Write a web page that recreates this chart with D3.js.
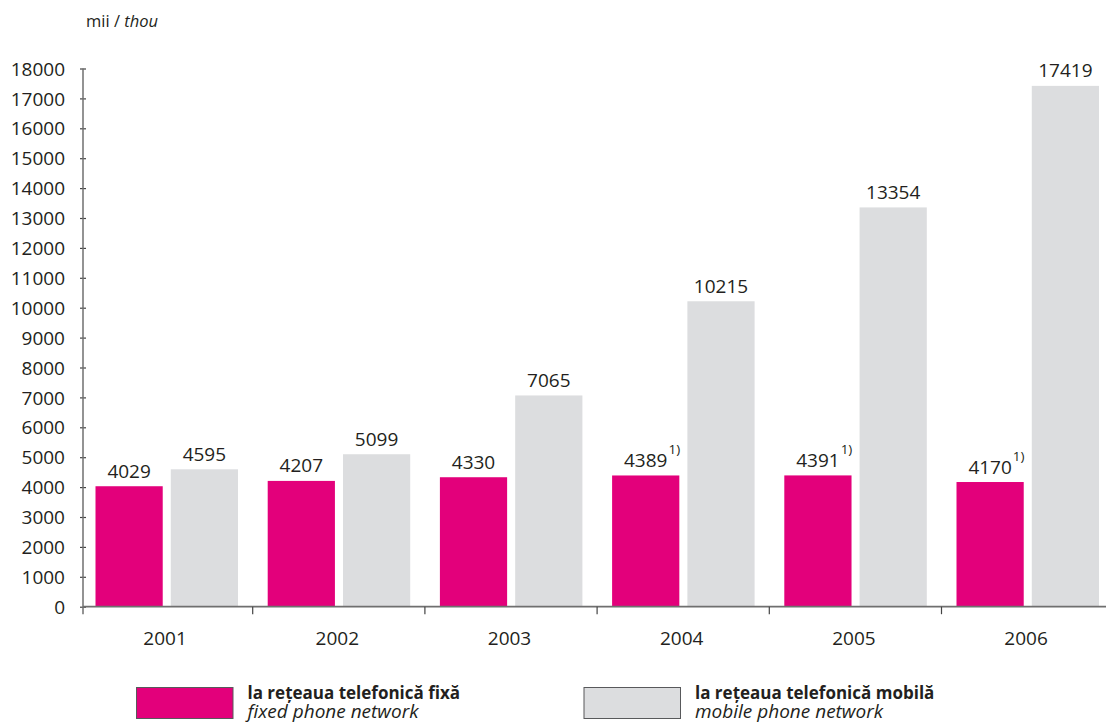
<!DOCTYPE html>
<html>
<head>
<meta charset="utf-8">
<script src="https://cdn.jsdelivr.net/npm/d3@7"></script>
<style>
  html, body { margin: 0; padding: 0; background: #fff; }
  svg { display: block; font-family: "Open Sans", "Noto Sans", sans-serif; }
</style>
</head>
<body>
<svg id="chart" width="1106" height="723"></svg>
<script>
// ---- data ----
const categories = ["2001", "2002", "2003", "2004", "2005", "2006"];
const fixedValues = [4029, 4207, 4330, 4389, 4391, 4170];
const mobileValues = [4595, 5099, 7065, 10215, 13354, 17419];
const fixedNotes = ["", "", "", "1)", "1)", "1)"];
const mobileNotes = ["", "", "", "", "", ""];
const yTicks = [0, 1000, 2000, 3000, 4000, 5000, 6000, 7000, 8000, 9000, 10000,
                11000, 12000, 13000, 14000, 15000, 16000, 17000, 18000];
const seriesKeys = ["fixed", "mobile"];
const seriesLabelsRo = ["la rețeaua telefonică fixă", "la rețeaua telefonică mobilă"];
const seriesLabelsEn = ["fixed phone network", "mobile phone network"];
const unitRo = "mii / ";
const unitEn = "thou";

// ---- styles ----
const colors = { fixed: "#e3007b", mobile: "#dcdddf" };
const textColor = "#231f20";
const axisColor = "#6f6f6f";

const svg = d3.select("#chart");

const y = d3.scaleLinear().domain([0, 18000]).range([606.7, 68.5]);
const x0 = d3.scaleBand().domain(categories).range([80.5, 1113.7]).padding(0);
const x1 = d3.scaleBand().domain(seriesKeys).range([15, 157.5]).paddingInner(0.107).paddingOuter(0);
const axisX = 83;

const rows = categories.map((c, i) => ({
  cat: c,
  values: [
    { key: "fixed", value: fixedValues[i], note: fixedNotes[i] },
    { key: "mobile", value: mobileValues[i], note: mobileNotes[i] }
  ]
}));

// unit label
const unit = svg.append("text").attr("x", 86).attr("y", 27)
  .attr("font-size", 16.5).attr("fill", textColor);
unit.append("tspan").text(unitRo);
unit.append("tspan").attr("font-style", "italic").text(unitEn);

// bars
const groups = svg.selectAll("g.cat").data(rows).join("g")
  .attr("class", "cat")
  .attr("transform", d => `translate(${x0(d.cat)},0)`);

groups.selectAll("rect").data(d => d.values).join("rect")
  .attr("x", d => x1(d.key))
  .attr("width", x1.bandwidth())
  .attr("y", d => y(d.value))
  .attr("height", d => y(0) - y(d.value))
  .attr("fill", d => colors[d.key]);

// value labels
groups.each(function(d) {
  const g = d3.select(this);
  d.values.forEach(v => {
    const cx = x1(v.key) + x1.bandwidth() / 2;
    const t = g.append("text")
      .attr("x", cx)
      .attr("y", y(v.value) - 8.5)
      .attr("text-anchor", "middle")
      .attr("font-size", 19)
      .attr("fill", textColor)
      .text(d3.format("d")(v.value));
    if (v.note) {
      const w = t.node().getComputedTextLength();
      g.append("text")
        .attr("x", cx + w / 2 + 1)
        .attr("y", y(v.value) - 21)
        .attr("font-size", 13.5)
        .attr("fill", textColor)
        .text(v.note);
    }
  });
});

// y axis
const yAxis = d3.axisLeft(y).tickValues(yTicks).tickSizeInner(3).tickSizeOuter(0).tickPadding(15)
  .tickFormat(d3.format("d"));
const yg = svg.append("g").attr("transform", `translate(${axisX},0)`).call(yAxis);
yg.select(".domain").remove();
yg.selectAll(".tick line").attr("x1", -3).attr("x2", 3).attr("stroke", "#444").attr("stroke-width", 1.2);
yg.selectAll(".tick text").attr("font-size", 19).attr("fill", textColor)
  .attr("font-family", "'Open Sans', 'Noto Sans', sans-serif").attr("dy", "0.35em");
svg.append("line")
  .attr("x1", axisX).attr("x2", axisX)
  .attr("y1", y(18000)).attr("y2", y(0) + 7.5)
  .attr("stroke", axisColor).attr("stroke-width", 1.5);

// x axis
svg.append("line")
  .attr("x1", axisX).attr("x2", 1106)
  .attr("y1", y(0)).attr("y2", y(0))
  .attr("stroke", axisColor).attr("stroke-width", 1.8);
svg.selectAll("line.xtick").data(categories.slice(1)).join("line")
  .attr("class", "xtick")
  .attr("x1", d => x0(d)).attr("x2", d => x0(d))
  .attr("y1", y(0)).attr("y2", y(0) + 7.5)
  .attr("stroke", "#444").attr("stroke-width", 1.2);
svg.selectAll("text.xlabel").data(categories).join("text")
  .attr("class", "xlabel")
  .attr("x", d => x0(d) + x0.bandwidth() / 2 - 1.5)
  .attr("y", 645)
  .attr("text-anchor", "middle")
  .attr("font-size", 19)
  .attr("fill", textColor)
  .text(d => d);

// legend
const legendX = [136, 583.5];
seriesKeys.forEach((k, i) => {
  const lg = svg.append("g").attr("transform", `translate(${legendX[i]},687)`);
  lg.append("rect").attr("x", 0.5).attr("y", 0.5).attr("width", 96.5).attr("height", 31)
    .attr("fill", colors[k]).attr("stroke", "#58595b").attr("stroke-width", 1);
  lg.append("text").attr("x", 111.5).attr("y", 11.5)
    .attr("font-size", 17).attr("font-weight", "bold").attr("fill", textColor)
    .text(seriesLabelsRo[i]);
  lg.append("text").attr("x", 111.5).attr("y", 31)
    .attr("font-size", 19).attr("font-style", "italic").attr("fill", textColor)
    .text(seriesLabelsEn[i]);
});
</script>
</body>
</html>
